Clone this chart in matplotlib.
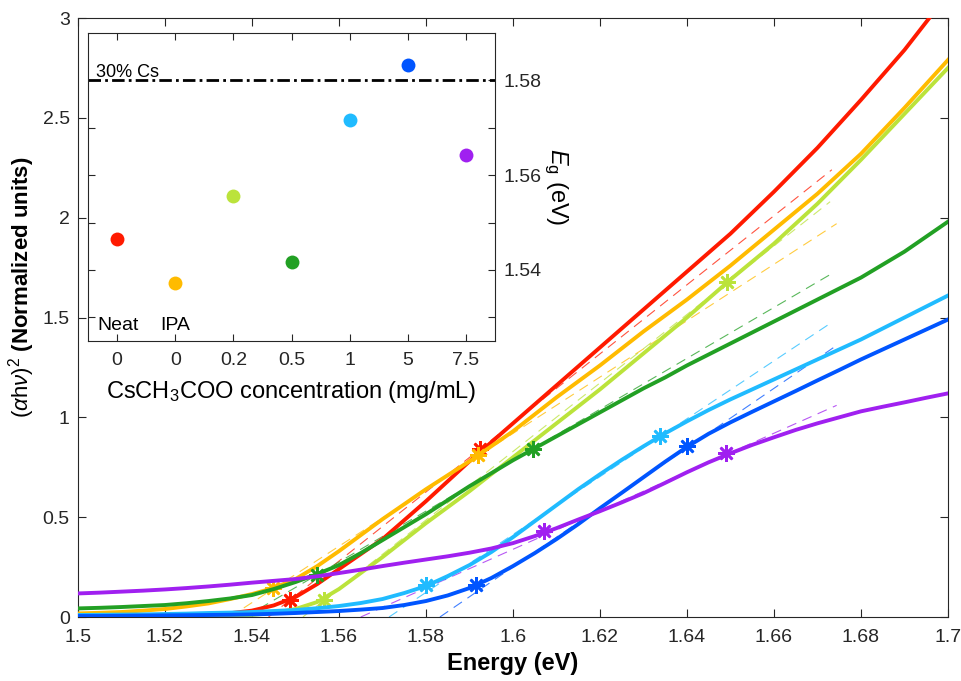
import matplotlib
matplotlib.use('Agg')
import matplotlib.pyplot as plt

plt.rcParams['font.family'] = ['Liberation Sans', 'DejaVu Sans']
plt.rcParams['mathtext.fontset'] = 'custom'
plt.rcParams['mathtext.rm'] = 'Liberation Sans'
plt.rcParams['mathtext.it'] = 'Liberation Sans:italic'
plt.rcParams['mathtext.bf'] = 'Liberation Sans:bold'

# photon energy grid (eV)
energy = [1.500, 1.505, 1.510, 1.515, 1.520, 1.525, 1.530, 1.535, 1.540, 1.545,
          1.550, 1.555, 1.560, 1.565, 1.570, 1.575, 1.580, 1.585, 1.590, 1.595,
          1.600, 1.605, 1.610, 1.615, 1.620, 1.625, 1.630, 1.635, 1.640, 1.645,
          1.650, 1.655, 1.660, 1.665, 1.670, 1.675, 1.680, 1.685, 1.690, 1.695,
          1.700]

# (alpha h nu)^2, normalized, one list per sample
tauc_neat = [0.003, 0.003, 0.004, 0.005, 0.006, 0.008, 0.012, 0.019, 0.032, 0.058,
             0.10, 0.165, 0.24, 0.315, 0.39, 0.485, 0.58, 0.68, 0.78, 0.875,
             0.97, 1.065, 1.16, 1.255, 1.35, 1.445, 1.54, 1.635, 1.73, 1.825,
             1.92, 2.025, 2.13, 2.24, 2.35, 2.47, 2.59, 2.715, 2.84, 2.98,
             3.12]
tauc_ipa = [0.018, 0.021, 0.025, 0.032, 0.04, 0.053, 0.068, 0.09, 0.115, 0.145,
            0.19, 0.255, 0.33, 0.41, 0.49, 0.565, 0.64, 0.71, 0.78, 0.855,
            0.93, 1.015, 1.10, 1.18, 1.26, 1.345, 1.43, 1.51, 1.59, 1.675,
            1.76, 1.85, 1.94, 2.03, 2.12, 2.22, 2.32, 2.435, 2.55, 2.67,
            2.79]
tauc_02 = [0.0, 0.0, 0.0, 0.0, 0.0, 0.001, 0.003, 0.006, 0.01, 0.02,
           0.04, 0.075, 0.14, 0.22, 0.30, 0.385, 0.47, 0.55, 0.63, 0.715,
           0.80, 0.885, 0.97, 1.055, 1.14, 1.23, 1.32, 1.41, 1.50, 1.595,
           1.69, 1.78, 1.87, 1.97, 2.07, 2.18, 2.29, 2.405, 2.52, 2.635,
           2.75]
tauc_05 = [0.043, 0.046, 0.05, 0.055, 0.06, 0.069, 0.08, 0.093, 0.11, 0.14,
           0.175, 0.215, 0.26, 0.32, 0.385, 0.45, 0.515, 0.585, 0.655, 0.72,
           0.785, 0.845, 0.905, 0.965, 1.025, 1.085, 1.145, 1.20, 1.26, 1.315,
           1.37, 1.425, 1.48, 1.535, 1.59, 1.645, 1.70, 1.765, 1.83, 1.905,
           1.98]
tauc_1 = [0.01, 0.011, 0.012, 0.013, 0.015, 0.017, 0.02, 0.022, 0.025, 0.03,
          0.035, 0.044, 0.055, 0.07, 0.09, 0.12, 0.155, 0.205, 0.26, 0.325,
          0.40, 0.48, 0.56, 0.64, 0.715, 0.787, 0.855, 0.92, 0.98, 1.037,
          1.09, 1.14, 1.19, 1.24, 1.29, 1.34, 1.39, 1.445, 1.50, 1.555,
          1.61]
tauc_5 = [0.005, 0.005, 0.006, 0.007, 0.008, 0.009, 0.01, 0.011, 0.013, 0.016,
          0.02, 0.025, 0.03, 0.037, 0.045, 0.06, 0.08, 0.108, 0.145, 0.195,
          0.255, 0.32, 0.39, 0.465, 0.545, 0.622, 0.70, 0.778, 0.852, 0.918,
          0.975, 1.028, 1.08, 1.132, 1.185, 1.237, 1.29, 1.34, 1.39, 1.44,
          1.49]
tauc_75 = [0.118, 0.122, 0.127, 0.132, 0.138, 0.145, 0.153, 0.162, 0.172, 0.181,
           0.19, 0.204, 0.22, 0.237, 0.255, 0.272, 0.288, 0.304, 0.322, 0.343,
           0.37, 0.405, 0.445, 0.488, 0.53, 0.574, 0.62, 0.672, 0.725, 0.775,
           0.82, 0.862, 0.90, 0.937, 0.97, 1.00, 1.03, 1.053, 1.075, 1.098,
           1.12]

# fit range markers (energy, value) per sample
star_e = [[1.5487, 1.5924], [1.5448, 1.5920], [1.5566, 1.6493], [1.5549, 1.6046],
          [1.5801, 1.6338], [1.5916, 1.6401], [1.6071, 1.6489]]
star_v = [[0.085, 0.84], [0.143, 0.81], [0.085, 1.68], [0.21, 0.84],
          [0.16, 0.905], [0.16, 0.855], [0.43, 0.82]]

# linear fit lines: start / end energy and value
fit_e = [[1.5438, 1.6733], [1.5349, 1.6744], [1.5517, 1.6729], [1.5384, 1.6733],
         [1.5715, 1.6729], [1.5832, 1.6744], [1.5650, 1.6744]]
fit_v = [[0, 2.24], [0, 1.97], [0, 2.08], [0, 1.72], [0, 1.47], [0, 1.36], [0, 1.06]]

# inset: band gap vs CsCH3COO concentration
conc_labels = ['0', '0', '0.2', '0.5', '1', '5', '7.5']
band_gap = [1.5466, 1.5373, 1.5555, 1.5417, 1.5716, 1.5832, 1.5643]
eg_30cs = 1.58

colors = ['#FF1A00', '#FFBB00', '#BBE33B', '#22A024', '#20BBFF', '#0055FF', '#A020F0']
curves = [tauc_neat, tauc_ipa, tauc_02, tauc_05, tauc_1, tauc_5, tauc_75]

fig = plt.figure(figsize=(9.62, 6.81), dpi=100)
ax = fig.add_axes([78 / 962, 1 - 617 / 681, 870 / 962, 599 / 681])

for i, ys in enumerate(curves):
    ax.plot(energy, ys, color=colors[i], lw=2.8, zorder=3 + i)
    ax.plot(fit_e[i], fit_v[i], color=colors[i], lw=0.8, alpha=0.75,
            dashes=(9, 6), zorder=2)
    ax.plot(star_e[i], star_v[i], ls='none', marker=(8, 2, 0), ms=12, mew=1.9,
            color=colors[i], zorder=3 + i)

ax.set_xlim(1.5, 1.7)
ax.set_ylim(0, 3)
ax.set_xticks([1.5 + 0.02 * k for k in range(11)])
ax.set_xticklabels(['1.5', '1.52', '1.54', '1.56', '1.58', '1.6', '1.62', '1.64',
                    '1.66', '1.68', '1.7'])
ax.set_yticks([0, 0.5, 1, 1.5, 2, 2.5, 3])
ax.set_yticklabels(['0', '0.5', '1', '1.5', '2', '2.5', '3'])
ax.tick_params(direction='in', top=True, right=True, length=6, width=0.8,
               labelsize=14, colors='#262626', pad=6)
ax.tick_params(axis='x', pad=9)
for s in ax.spines.values():
    s.set_color('#262626')
    s.set_linewidth(0.8)
ax.set_xlabel('Energy (eV)', fontsize=17, fontweight='bold', labelpad=4)
ax.set_ylabel(r'$(\alpha\mathrm{h}\nu)^2$ (Normalized units)', fontsize=16,
              fontweight='bold')
ax.yaxis.set_label_coords(-0.047, 0.551)

# inset
ins = fig.add_axes([88 / 962, 1 - 341 / 681, 407 / 962, 308 / 681])
pos = list(range(1, len(band_gap) + 1))
for i in range(len(band_gap)):
    ins.plot(pos[i], band_gap[i], 'o', ms=10, color=colors[i], mec='none')
ins.axhline(eg_30cs, color='black', lw=2, dashes=(4.5, 1.5, 1, 1.5))
ins.text(0.63, eg_30cs - 0.0001, '30% Cs', fontsize=13, va='bottom', ha='left')
ins.text(0.66, 1.5265, 'Neat', fontsize=14, va='bottom', ha='left')
ins.text(1.74, 1.5265, 'IPA', fontsize=14, va='bottom', ha='left')
ins.set_xlim(0.5, 7.5)
ins.set_ylim(1.525, 1.59)
ins.set_xticks(pos)
ins.set_xticklabels(conc_labels)
ins.set_yticks([1.53, 1.54, 1.55, 1.56, 1.57, 1.58])
ins.set_yticklabels(['', '1.54', '', '1.56', '', '1.58'])
ins.yaxis.tick_right()
ins.yaxis.set_label_position('right')
ins.tick_params(direction='in', top=True, left=True, right=True, length=5,
                width=0.8, labelsize=14, colors='#262626', pad=6)
ins.tick_params(axis='x', pad=8)
for s in ins.spines.values():
    s.set_color('#262626')
    s.set_linewidth(0.8)
ins.set_xlabel(r'CsCH$_3$COO concentration (mg/mL)', fontsize=17, labelpad=7)
ins.set_ylabel(r'$E_\mathrm{g}$ (eV)', fontsize=17, rotation=270, labelpad=20)

fig.savefig('out.png', dpi=100)
